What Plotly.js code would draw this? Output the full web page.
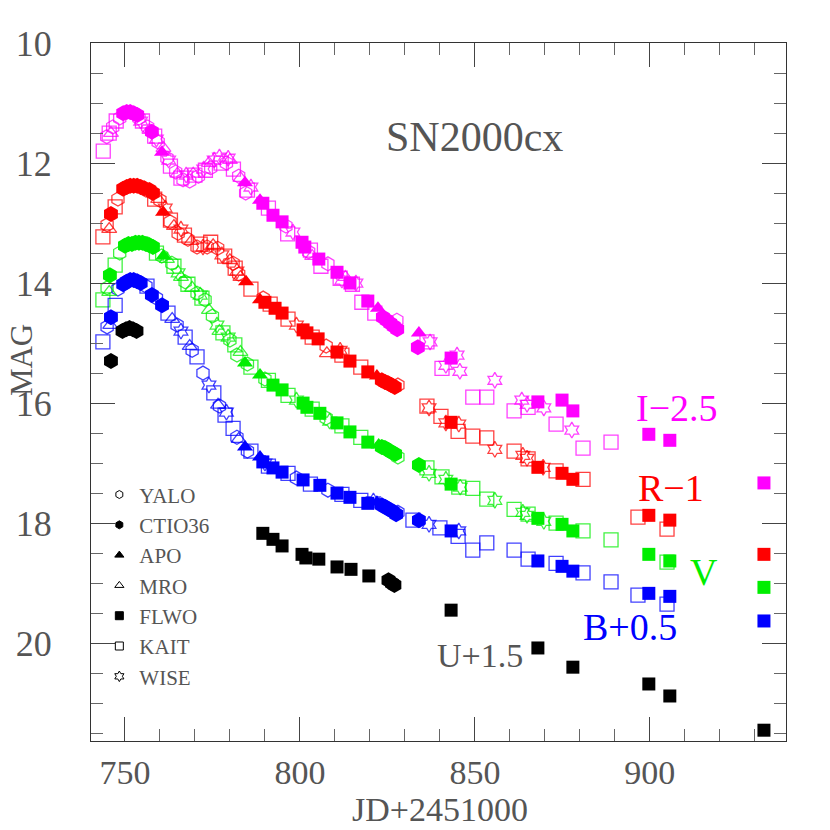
<!DOCTYPE html>
<html>
<head>
<meta charset="utf-8">
<script src="https://cdn.plot.ly/plotly-3.0.1.min.js"></script>
<style>
  body { margin: 0; background: #fff; }
  #chart { width: 830px; height: 830px; }
</style>
</head>
<body>
<div id="chart"></div>
<script>
// plotted magnitudes (offsets already applied: I-2.5, R-1, V, B+0.5, U+1.5), pairs of [JD-2451000, mag]

// I - 2.5
const I_YALO = [[744.8,11.56],[746.5,11.4],[748.5,11.25],[754,11.25],[756.5,11.4],[759.5,11.65],[762,11.92],[764.5,12.15],[766.6,12.28],[768.5,12.3],[771,12.22],[774.5,12.08],[779,12.0],[782.5,12.22],[784.5,12.5],[796,13.05],[802.5,13.48],[808,13.68],[827.7,14.62]];
const I_CTIO = [[749.5,11.17],[750.5,11.15],[751.5,11.15],[752.5,11.17],[753.5,11.2],[757.7,11.48],[823.7,14.57],[824.8,14.62],[825.8,14.67],[826.8,14.72],[827.8,14.77],[833.7,15.07]];
const I_APO = [[760.6,11.82],[784.3,12.33],[788.6,12.62],[822.3,14.42],[834,14.83]];
const I_MRO = [[746,11.5],[752,11.2],[757,11.45],[761,11.75],[765,12.18],[769.5,12.18],[774,12.0],[780,11.95],[783,12.25],[803.5,13.55],[813,13.9]];
const I_FLWO = [[789.4,12.67],[792.3,12.87],[794.9,12.98],[800.6,13.32],[801.4,13.4],[805.4,13.6],[810.6,13.82],[814.3,14.0],[819.4,14.3],[843.2,15.25],[868,15.98],[874.9,15.95],[878,16.13],[899.7,16.52],[905.7,16.62],[932.6,17.33]];
const I_KAIT = [[743.8,11.8],[745.5,11.5],[747.5,11.3],[755,11.3],[758.5,11.55],[763,12.05],[766,12.25],[770,12.2],[773,12.12],[777.5,12.0],[781,12.1],[785,12.45],[791,12.75],[796.5,13.18],[803,13.45],[806,13.72],[811.5,13.92],[815,14.02],[817.7,14.32],[821.4,14.5],[836.3,14.98],[840.6,15.42],[849.4,15.9],[853.4,15.9],[861.2,16.13],[865.2,16.07],[873.2,16.35],[880.9,16.75],[888.9,16.65]];
const I_WISE = [[754.5,11.3],[759,11.6],[762.5,11.95],[767.5,12.2],[772.5,12.1],[775.5,11.95],[777,11.9],[779.5,11.92],[786,12.4],[798,13.15],[812,13.95],[816,14.0],[837.2,14.98],[841.7,15.37],[844.9,15.2],[845.7,15.47],[855.7,15.62],[863.4,15.95],[864.9,16.02],[869.7,16.08],[877.7,16.45]];

// R - 1
const R_YALO = [[744.9,13.03],[748,12.6],[756,12.45],[760,12.62],[762.9,12.98],[765.2,13.17],[768,13.27],[770.6,13.4],[773.5,13.4],[776.5,13.42],[780.9,13.67],[782.5,13.85],[789.5,14.25],[807.5,15.05],[828,15.7]];
const R_CTIO = [[746,12.85],[749.5,12.43],[750.5,12.4],[751.5,12.38],[752.5,12.38],[753.5,12.38],[754.5,12.4],[755.5,12.42],[757,12.45],[758,12.5],[823.4,15.62],[824.3,15.65],[825.2,15.67],[826.1,15.7],[827.1,15.73]];
const R_APO = [[760.9,12.82],[784.6,13.98],[788.6,14.28],[822,15.55]];
const R_MRO = [[745.5,13.1],[759.5,12.6],[764,13.05],[769,13.3],[775.2,13.37],[780,13.62],[783,13.9],[807.7,15.17]];
const R_FLWO = [[790,14.32],[792.9,14.42],[794.9,14.5],[800.9,14.78],[802,14.83],[805.2,14.93],[810.6,15.15],[814.3,15.3],[819.4,15.48],[843.2,16.32],[868,17.07],[874.9,17.17],[878,17.27],[899.7,17.87],[905.7,17.95],[932.6,18.52]];
const R_KAIT = [[743.7,13.23],[747.2,12.73],[758.5,12.6],[763,12.95],[767,13.2],[771.5,13.35],[774.5,13.32],[778.5,13.55],[781.5,13.75],[786,14.1],[791.5,14.35],[796.6,14.6],[803.5,14.9],[812,15.2],[817.4,15.4],[836.3,16.05],[840.3,16.22],[845.2,16.47],[849.4,16.55],[853.4,16.58],[861.2,16.8],[865.2,16.93],[873.2,17.13],[880.9,17.27],[896.6,17.9],[904.9,18.1]];
const R_WISE = [[761.5,12.75],[766,13.1],[772.3,13.4],[777.7,13.53],[782,13.8],[799,14.7],[811.5,15.12],[836.9,16.08],[841.7,16.33],[845.4,16.35],[855.7,16.77],[863.7,16.87],[864.9,16.92],[869.5,17.07]];

// V
const V_YALO = [[744.9,14.08],[748.5,13.5],[756.5,13.35],[760.5,13.55],[763.4,13.67],[767.2,13.98],[770.6,14.17],[772.9,14.28],[775,14.55],[780,14.95],[782,15.2],[785,15.35],[790,15.6],[807.5,16.25],[828,16.9]];
const V_CTIO = [[745.7,13.87],[750,13.38],[751,13.35],[752,13.35],[753,13.33],[754,13.33],[755,13.33],[756,13.35],[757,13.37],[758,13.4],[823.4,16.73],[824.3,16.75],[825.2,16.78],[826.2,16.82],[827.2,16.85],[834,17.03]];
const V_APO = [[761,13.55],[784.3,15.33],[788.6,15.53],[822.5,16.7]];
const V_MRO = [[745.5,14.15],[762,13.6],[766,13.9],[769.2,14.08],[774,14.45],[777,14.8],[783,15.15]];
const V_FLWO = [[792.3,15.7],[794.9,15.78],[800.9,16.0],[802,16.07],[805.7,16.17],[810.6,16.33],[814.3,16.48],[819.4,16.65],[843.2,17.35],[868,17.92],[874.9,18.02],[878,18.13],[899.7,18.52],[905.7,18.63],[932.6,19.07]];
const V_KAIT = [[743.7,14.28],[747.2,13.7],[759,13.5],[764,13.72],[768,14.02],[772,14.25],[778,14.83],[781.4,15.03],[786,15.4],[791,15.62],[796.6,15.87],[803.5,16.1],[812,16.38],[817.4,16.57],[836.3,17.08],[840.6,17.23],[845.4,17.4],[849.4,17.42],[853.4,17.6],[861.2,17.77],[865.2,17.85],[873.2,18.0],[880.9,18.13],[888.9,18.28],[904.9,18.65]];
const V_WISE = [[765.2,13.83],[771.5,14.2],[776.3,14.7],[779.5,14.9],[799,15.95],[808.5,16.3],[836.9,17.17],[841.7,17.27],[845.8,17.4],[855.7,17.62],[863.7,17.82],[864.9,17.87],[869.7,17.97]];

// B + 0.5
const B_YALO = [[744.9,14.73],[748,14.1],[756,14.05],[759,14.25],[764.9,14.7],[769.2,15.12],[772.3,15.5],[777,16.05],[782,16.57],[785,16.8],[799,17.25],[808,17.45],[828,17.82]];
const B_CTIO = [[746,14.57],[749.5,14.02],[750.5,13.98],[751.5,13.95],[752.5,13.95],[753.5,13.97],[754.5,14.0],[757.7,14.2],[760.6,14.37],[823.4,17.7],[824.4,17.73],[825.4,17.77],[826.5,17.8],[827.5,17.85],[834,17.95]];
const B_APO = [[784.3,16.73],[788.6,16.9],[822,17.65]];
const B_MRO = [[745.8,14.7],[763.5,14.6],[768.5,15.05],[776.6,16.03],[782.5,16.6]];
const B_FLWO = [[789.4,16.98],[792.3,17.08],[794.9,17.15],[800.9,17.28],[805.7,17.37],[810.6,17.5],[814.3,17.57],[819.4,17.67],[843.2,18.13],[868,18.63],[874.9,18.72],[878,18.8],[899.7,19.17],[905.7,19.22],[932.6,19.63]];
const B_KAIT = [[743.7,14.98],[747.2,14.37],[756.3,14.05],[762.3,14.5],[767.2,14.9],[770.6,15.23],[775.4,15.83],[778.6,16.2],[780.9,16.42],[786,16.8],[791,17.05],[796.6,17.17],[803,17.35],[812,17.52],[817.4,17.62],[832.3,17.95],[840,18.08],[845.2,18.22],[849.4,18.45],[853.4,18.33],[861.2,18.45],[865.2,18.6],[873.2,18.67],[880.9,18.83],[888.9,18.98],[896.6,19.2],[904.9,19.35]];
const B_WISE = [[766,14.8],[774,15.7],[779,16.15],[790,17.0],[821,17.63],[836.9,18.02],[845.4,18.13]];

// U + 1.5
const U_CTIO = [[746,15.3],[749.3,14.8],[750.3,14.77],[751.3,14.75],[752.3,14.77],[753.3,14.8],[825.3,18.95],[826.3,19.0],[827,19.03]];
const U_FLWO = [[789.4,18.17],[792.3,18.27],[794.9,18.38],[800.6,18.52],[801.7,18.58],[805.4,18.6],[810.6,18.73],[814.6,18.77],[819.7,18.88],[843.2,19.45],[868,20.08],[878,20.4],[899.7,20.68],[905.7,20.88],[932.6,21.45]];

const bands = [
  { key: 'I', color: '#ff00ff', label: 'I\u22122.5', lx: 907.7, ly: 16.08 },
  { key: 'R', color: '#ff0000', label: 'R\u22121', lx: 906, ly: 17.42 },
  { key: 'V', color: '#00ee00', label: 'V', lx: 915.4, ly: 18.82 },
  { key: 'B', color: '#0000ff', label: 'B+0.5', lx: 894.3, ly: 19.73 },
  { key: 'U', color: '#000000', label: 'U+1.5', lx: 851.4, ly: 20.2 }
];

const series = {
  I: { YALO: I_YALO, CTIO36: I_CTIO, APO: I_APO, MRO: I_MRO, FLWO: I_FLWO, KAIT: I_KAIT, WISE: I_WISE },
  R: { YALO: R_YALO, CTIO36: R_CTIO, APO: R_APO, MRO: R_MRO, FLWO: R_FLWO, KAIT: R_KAIT, WISE: R_WISE },
  V: { YALO: V_YALO, CTIO36: V_CTIO, APO: V_APO, MRO: V_MRO, FLWO: V_FLWO, KAIT: V_KAIT, WISE: V_WISE },
  B: { YALO: B_YALO, CTIO36: B_CTIO, APO: B_APO, MRO: B_MRO, FLWO: B_FLWO, KAIT: B_KAIT, WISE: B_WISE },
  U: { CTIO36: U_CTIO, FLWO: U_FLWO }
};

// legend order
const telescopes = [
  { name: 'YALO', symbol: 'hexagon-open', size: 14, open: true },
  { name: 'CTIO36', symbol: 'hexagon', size: 16, open: false },
  { name: 'APO', symbol: 'triangle-up', size: 14, open: false },
  { name: 'MRO', symbol: 'triangle-up-open', size: 13, open: true },
  { name: 'FLWO', symbol: 'square', size: 13, open: false },
  { name: 'KAIT', symbol: 'square-open', size: 14, open: true },
  { name: 'WISE', symbol: 'hexagram-open', size: 12, open: true }
];

// open symbols underneath, filled on top
const drawOrder = ['KAIT', 'YALO', 'MRO', 'WISE', 'FLWO', 'APO', 'CTIO36'];

const traces = [];
drawOrder.forEach(tn => {
  const t = telescopes.find(s => s.name === tn);
  bands.forEach(b => {
    const pts = series[b.key][tn];
    if (!pts) return;
    traces.push({
      x: pts.map(p => p[0]),
      y: pts.map(p => p[1]),
      mode: 'markers',
      type: 'scatter',
      showlegend: false,
      hoverinfo: 'skip',
      marker: {
        symbol: t.symbol,
        size: t.size,
        color: b.color,
        opacity: t.open ? 0.75 : 1,
        line: { width: t.open ? 1.3 : 0, color: b.color }
      }
    });
  });
});

// legend entries
telescopes.forEach(t => {
  traces.push({
    x: [null], y: [null],
    mode: 'markers',
    type: 'scatter',
    name: t.name,
    marker: { symbol: t.symbol, size: 8, color: '#000', line: { width: 1, color: '#000' } }
  });
});

const fontFamily = '"Liberation Serif", "DejaVu Serif", serif';
const textColor = '#555';

const annotations = [
  { x: 850, y: 11.57, text: 'SN2000cx', showarrow: false, xanchor: 'center', yanchor: 'middle',
    font: { family: fontFamily, size: 42, color: textColor } },
  { xref: 'paper', yref: 'paper', x: -0.1, y: 0.545, text: 'MAG', textangle: -90, showarrow: false,
    xanchor: 'center', yanchor: 'middle',
    font: { family: fontFamily, size: 31, color: textColor } },
  { xref: 'paper', yref: 'paper', x: 0.502, y: -0.1275, text: 'JD+2451000', showarrow: false,
    xanchor: 'center', yanchor: 'bottom',
    font: { family: fontFamily, size: 34, color: textColor } }
];
bands.forEach(b => {
  annotations.push({
    x: b.lx, y: b.ly, text: b.label, showarrow: false, xanchor: 'center', yanchor: 'middle',
    font: { family: fontFamily, size: b.key === 'U' ? 34 : 38, color: b.key === 'U' ? textColor : b.color }
  });
});

const layout = {
  width: 830,
  height: 830,
  margin: { l: 91, r: 44, t: 43, b: 89 },
  paper_bgcolor: '#fff',
  plot_bgcolor: '#fff',
  font: { family: fontFamily, color: textColor },
  showlegend: true,
  legend: {
    x: 0.012, y: 0.382, xanchor: 'left', yanchor: 'top',
    bgcolor: 'rgba(0,0,0,0)',
    font: { family: fontFamily, size: 21, color: textColor },
    itemwidth: 30,
    tracegroupgap: 0
  },
  xaxis: {
    range: [740.3, 938.9],
    tick0: 750, dtick: 50,
    ticks: 'inside', ticklen: 24, tickcolor: '#444', tickwidth: 1,
    minor: { dtick: 10, ticks: 'inside', ticklen: 12, tickcolor: '#666' },
    showline: true, linecolor: '#333', linewidth: 1, mirror: 'ticks',
    showgrid: false, zeroline: false,
    tickfont: { family: fontFamily, size: 34, color: textColor },
    ticklabelstandoff: 1
  },
  yaxis: {
    range: [21.63, 10],
    tick0: 10, dtick: 2,
    ticks: 'inside', ticklen: 24, tickcolor: '#444', tickwidth: 1,
    minor: { dtick: 0.5, ticks: 'inside', ticklen: 12, tickcolor: '#666' },
    showline: true, linecolor: '#333', linewidth: 1, mirror: 'ticks',
    showgrid: false, zeroline: false,
    tickfont: { family: fontFamily, size: 36, color: textColor },
    ticklabelstandoff: 31
  },
  annotations: annotations
};

Plotly.newPlot('chart', traces, layout, { displayModeBar: false, staticPlot: true });
</script>
</body>
</html>
